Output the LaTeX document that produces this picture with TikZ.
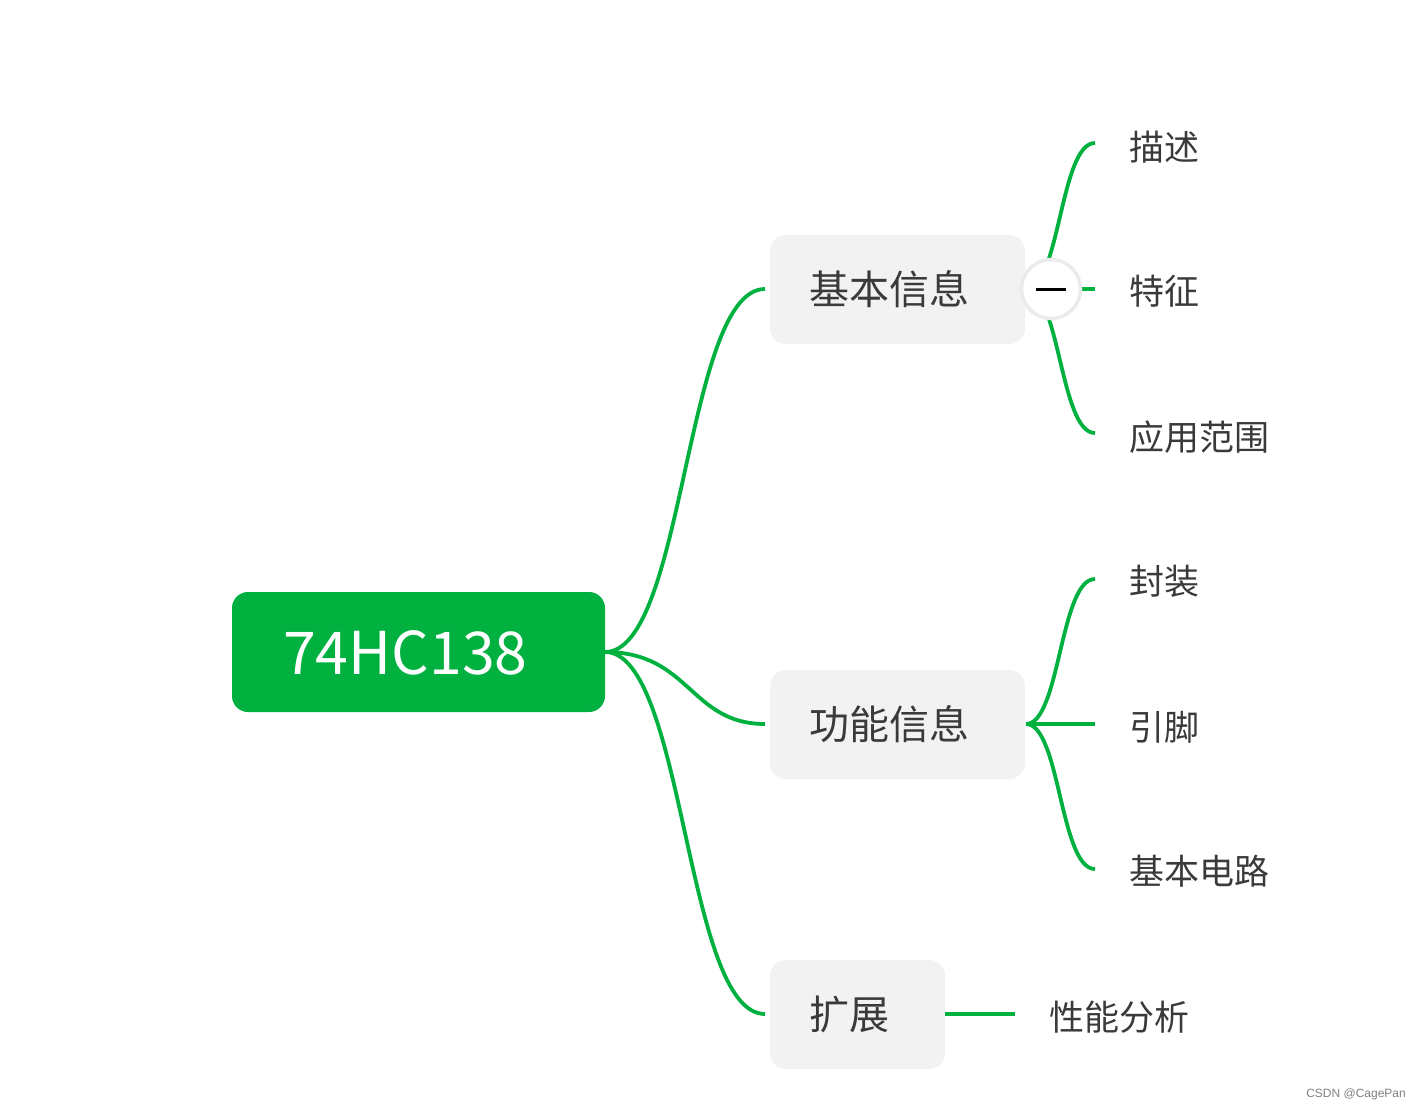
\documentclass[tikz,border=0pt]{standalone}
\usepackage{fontspec}
\setmainfont{Noto Sans CJK SC}
\newfontfamily\wmfont{Liberation Sans}
\definecolor{mgreen}{HTML}{00B140}
\definecolor{boxgray}{HTML}{F2F2F2}
\definecolor{ringgray}{HTML}{EBEBEB}
\definecolor{txtgray}{HTML}{3A3A3A}
\begin{document}
\begin{tikzpicture}[x=1pt,y=-1pt,
  rootbox/.style={fill=mgreen,rounded corners=16pt,minimum width=373pt,minimum height=120pt,inner sep=0pt},
  lvlbox/.style={fill=boxgray,rounded corners=16pt,minimum height=109pt,inner sep=0pt},
  lvltext/.style={text=txtgray,font=\fontsize{40}{48}\selectfont,anchor=west,inner sep=0pt},
  leaftext/.style={text=txtgray,font=\fontsize{35}{42}\selectfont,anchor=west,inner sep=0pt},
  conn/.style={draw=mgreen,line width=3.8pt}
]
\useasboundingbox (0,0) rectangle (1421,1111);
% root
\node[rootbox] (root) at (418.5,652) {};
\node[text=white,font=\fontsize{59}{68}\selectfont,anchor=west,inner sep=0pt] (roott) at (283,653) {74HC138};
% level 1 boxes
\node[lvlbox,minimum width=255pt] (b1) at (897.5,289.5) {};
\node[lvlbox,minimum width=255pt] (b2) at (897.5,724.5) {};
\node[lvlbox,minimum width=175pt] (b3) at (857.5,1014.5) {};
\node[lvltext] (t1) at (809,289) {基本信息};
\node[lvltext] (t2) at (809,724) {功能信息};
\node[lvltext] (t3) at (809,1014) {扩展};
% anchor coordinates
\coordinate (rs) at (605,652);
\coordinate (e1) at (765,289);
\coordinate (e2) at (765,724);
\coordinate (e3) at (765,1014);
\draw[conn] (rs) .. controls (685,652) and (685,289) .. (e1);
\draw[conn] (rs) .. controls (690,652) and (690,724) .. (e2);
\draw[conn] (rs) .. controls (685,652) and (685,1014) .. (e3);
% leaves
\node[leaftext] (l1) at (1129,147) {描述};
\node[leaftext] (l2) at (1129,291) {特征};
\node[leaftext] (l3) at (1129,437) {应用范围};
\node[leaftext] (l4) at (1129,581) {封装};
\node[leaftext] (l5) at (1129,727) {引脚};
\node[leaftext] (l6) at (1129,871) {基本电路};
\node[leaftext] (l7) at (1049,1017) {性能分析};
% level 2 connectors (basic info)
\coordinate (s1) at (1026,289);
\coordinate (p1) at (1095,143);
\coordinate (p2) at (1095,289);
\coordinate (p3) at (1095,433);
\draw[conn] (s1) .. controls (1060,289) and (1060,143) .. (p1);
\draw[conn] (s1) -- (p2);
\draw[conn] (s1) .. controls (1060,289) and (1060,433) .. (p3);
% collapse button
\node[circle,draw=ringgray,line width=3.5pt,fill=white,minimum size=59pt,inner sep=0pt] (btn) at (1051,289) {};
\draw[black,line width=3pt] ([xshift=-15pt]btn.center) -- ([xshift=15pt]btn.center);
% level 2 connectors (function info)
\coordinate (s2) at (1026,724);
\coordinate (q1) at (1095,579);
\coordinate (q2) at (1095,724);
\coordinate (q3) at (1095,869);
\draw[conn] (s2) .. controls (1060,724) and (1060,579) .. (q1);
\draw[conn] (s2) -- (q2);
\draw[conn] (s2) .. controls (1060,724) and (1060,869) .. (q3);
% extension
\coordinate (s3) at (945,1014);
\coordinate (r1) at (1015,1014);
\draw[conn] (s3) -- (r1);
% watermark
\node[text=gray,font=\wmfont\fontsize{12}{14}\selectfont,anchor=east,inner sep=0pt] (wm) at (1406,1094) {CSDN @CagePan};
\end{tikzpicture}
\end{document}
